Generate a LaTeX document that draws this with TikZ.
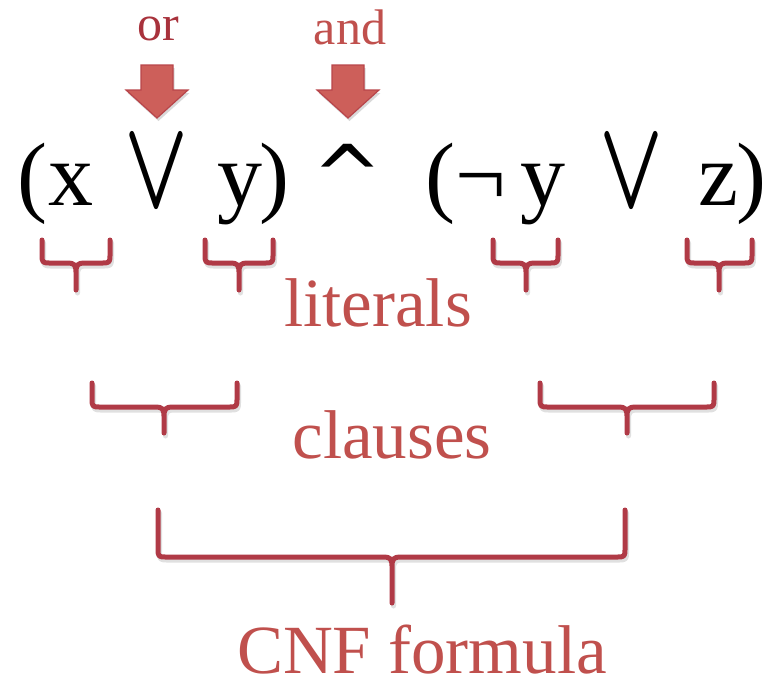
\documentclass[tikz,border=0pt]{standalone}
\usepackage{fontspec}
\setmainfont{Liberation Serif}
\newfontfamily\symfont{DejaVu Sans}
\definecolor{lab}{HTML}{C0504D}
\definecolor{labdark}{HTML}{A8323C}
\definecolor{brc}{HTML}{B03A46}
\definecolor{arrfill}{HTML}{CD5F5A}
\definecolor{arrline}{HTML}{B8454A}
\newcommand\bracepath[6]{%
 (#1,#3) -- (#1,#4-7) .. controls (#1,#4-1) and (#1+1,#4) .. (#1+7,#4) -- (#5-8,#4) .. controls (#5-2,#4) and (#5,#4+2) .. (#5,#4+9) -- (#5,#6)
 (#2,#3) -- (#2,#4-7) .. controls (#2,#4-1) and (#2-1,#4) .. (#2-7,#4) -- (#5+8,#4) .. controls (#5+2,#4) and (#5,#4+2) .. (#5,#4+9)}
\newcommand\mybrace[6]{%
 \draw[bshadow] [shift={(1.5,3)}] \bracepath{#1}{#2}{#3}{#4}{#5}{#6};
 \draw[brace] \bracepath{#1}{#2}{#3}{#4}{#5}{#6};}
\newcommand\blockarrow[1]{%
 \fill[black!15] [shift={(1.5,3)}] (#1-16,65) -- (#1+16,65) -- (#1+16,90) -- (#1+31,90) -- (#1,118) -- (#1-31,90) -- (#1-16,90) -- cycle;
 \draw[barrow] (#1-16,65) -- (#1+16,65) -- (#1+16,90) -- (#1+31,90) -- (#1,118) -- (#1-31,90) -- (#1-16,90) -- cycle;}
\begin{document}
\begin{tikzpicture}[x=1pt,y=-1pt,
  glyph/.style={inner sep=0pt, anchor=base, font=\fontsize{90}{90}\selectfont},
  vglyph/.style={inner sep=0pt, anchor=south},
  lbl/.style={inner sep=0pt, anchor=base, text=lab, font=\fontsize{69}{69}\selectfont},
  small/.style={inner sep=0pt, anchor=base, font=\fontsize{50}{50}\selectfont},
  brace/.style={draw=brc, line width=5pt, line cap=round, line join=round},
  bshadow/.style={draw=black!12, line width=5pt, line cap=round, line join=round},
  barrow/.style={fill=arrfill, draw=arrline, line width=1.2pt, line join=miter}]
\useasboundingbox (0,0) rectangle (777,680);
% top labels and arrows
\node[small, text=labdark] (or) at (158,40) {or};
\node[small, text=lab] (and) at (350,45) {and};
\blockarrow{157}
\blockarrow{348}
% formula
\node[glyph] (p1) at (32,205) {(};
\node[glyph] (x) at (71,205) {x};
\node[vglyph] (v1) at (157,208) {\resizebox{64pt}{70pt}{\boldmath$\vee$}};
\node[glyph] (y1) at (240,205) {y};
\node[glyph] (p2) at (274,205) {)};
\node[inner sep=0pt, anchor=base, font=\symfont\fontsize{84}{84}\selectfont] (and1) at (348,205) {\^{}};
\node[glyph] (p3) at (440,205) {(};
\node[glyph] (neg) at (481,205) {¬};
\node[glyph] (y2) at (543,205) {y};
\node[vglyph] (v2) at (632,208) {\resizebox{64pt}{70pt}{\boldmath$\vee$}};
\node[glyph] (z) at (718,205) {z};
\node[glyph] (p4) at (751,205) {)};
% braces
\mybrace{42}{110}{240}{263}{76}{290}
\mybrace{205}{273}{240}{263}{239}{290}
\mybrace{493}{558}{240}{263}{526}{290}
\mybrace{687}{752}{240}{263}{719}{290}
\mybrace{92}{237}{383}{407}{164}{433}
\mybrace{540}{714}{383}{407}{627}{433}
\mybrace{158}{625}{510}{557}{392}{603}
% labels
\node[lbl] (lit) at (378,326) {literals};
\node[lbl] (cl) at (392,458) {clauses};
\node[lbl] (cnf) at (422,673) {CNF formula};
\end{tikzpicture}
\end{document}
